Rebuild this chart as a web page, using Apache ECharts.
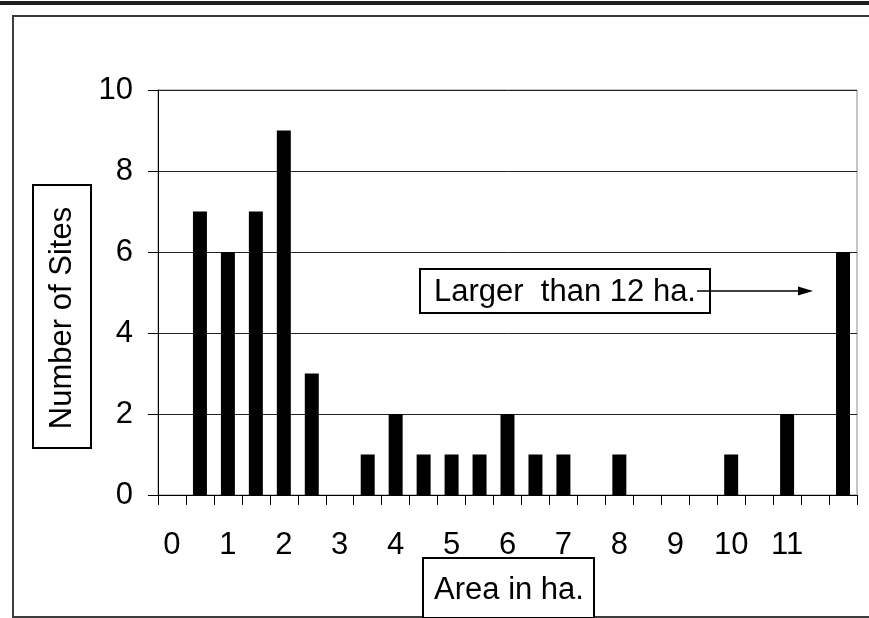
<!DOCTYPE html>
<html>
<head>
<meta charset="utf-8">
<script src="https://cdn.jsdelivr.net/npm/echarts@6/dist/echarts.min.js"></script>
<style>
  html, body { margin: 0; padding: 0; background: #fff; }
  #chart { width: 869px; height: 618px; }
</style>
</head>
<body>
<div id="chart"></div>
<script>
// Site size bins in half-hectare steps, last bin collects everything over 12 ha.
const areaBins = ['0', '0.5', '1', '1.5', '2', '2.5', '3', '3.5', '4', '4.5', '5', '5.5',
  '6', '6.5', '7', '7.5', '8', '8.5', '9', '9.5', '10', '10.5', '11', '11.5', '>12'];
// Number of sites falling in each bin
const siteCounts = [0, 7, 6, 7, 9, 3, 0, 1, 2, 1, 1, 1, 2, 1, 1, 0, 1, 0, 0, 0, 1, 0, 2, 0, 6];
// Labels printed under the axis (whole hectares only)
const binTickLabels = ['0', '', '1', '', '2', '', '3', '', '4', '', '5', '', '6', '', '7', '',
  '8', '', '9', '', '10', '', '11', '', ''];
const yTicks = { min: 0, max: 10, step: 2 };

const FONT = 'Liberation Sans, Arial, Helvetica, sans-serif';
const FS = 31;

const chart = echarts.init(document.getElementById('chart'), null, { renderer: 'canvas' });

chart.setOption({
  backgroundColor: '#ffffff',
  animation: false,
  grid: {
    left: 158, right: 12, top: 90, bottom: 123,
    show: true, borderColor: '#8a8a8a', borderWidth: 1
  },
  xAxis: {
    type: 'category',
    data: areaBins,
    boundaryGap: true,
    axisLine: { lineStyle: { color: '#000', width: 1 } },
    axisTick: { show: true, interval: 0, length: 10, lineStyle: { color: '#000', width: 1 } },
    axisLabel: {
      interval: 0, margin: 35, color: '#000', fontFamily: FONT, fontSize: FS,
      formatter: (v, i) => binTickLabels[i]
    },
    splitLine: { show: false }
  },
  yAxis: {
    type: 'value',
    min: yTicks.min, max: yTicks.max, interval: yTicks.step,
    axisLine: { show: true, lineStyle: { color: '#000', width: 1 } },
    axisTick: { show: true, length: 10, lineStyle: { color: '#000', width: 1 } },
    axisLabel: { margin: 25, color: '#000', fontFamily: FONT, fontSize: FS },
    splitLine: { show: true, lineStyle: { color: '#222', width: 1 } }
  },
  series: [{
    type: 'bar',
    data: siteCounts,
    barWidth: '50%',
    itemStyle: { color: '#000' }
  }],
  graphic: [
    // page frame
    { type: 'rect', shape: { x: 0, y: 1, width: 869, height: 4 }, style: { fill: '#1e1e1e' }, silent: true },
    { type: 'rect', shape: { x: 13, y: 16, width: 880, height: 601 },
      style: { fill: null, stroke: '#3c3c3c', lineWidth: 2 }, silent: true },
    // y axis title box
    { type: 'rect', shape: { x: 33, y: 185, width: 58, height: 263 },
      style: { fill: '#fff', stroke: '#000', lineWidth: 2 }, silent: true },
    { type: 'text', x: 62, y: 318, rotation: Math.PI / 2,
      style: { text: 'Number of Sites', font: FS + 'px ' + FONT, fill: '#000',
        align: 'center', verticalAlign: 'middle' }, silent: true },
    // x axis title box
    { type: 'rect', shape: { x: 423, y: 558, width: 171, height: 60 },
      style: { fill: '#fff', stroke: '#000', lineWidth: 2 }, silent: true },
    { type: 'text', x: 509, y: 590,
      style: { text: 'Area in ha.', font: FS + 'px ' + FONT, fill: '#000',
        align: 'center', verticalAlign: 'middle' }, silent: true },
    // note on the last bin
    { type: 'rect', shape: { x: 420, y: 269, width: 290, height: 44 },
      style: { fill: '#fff', stroke: '#000', lineWidth: 2 }, silent: true, z: 10 },
    { type: 'text', x: 565, y: 292,
      style: { text: 'Larger  than 12 ha.', font: FS + 'px ' + FONT, fill: '#000',
        align: 'center', verticalAlign: 'middle' }, silent: true, z: 11 },
    { type: 'line', shape: { x1: 697, y1: 291, x2: 800, y2: 291 },
      style: { stroke: '#000', lineWidth: 1.5 }, silent: true, z: 11 },
    { type: 'polygon', shape: { points: [[798, 286.5], [813, 291], [798, 295.5]] },
      style: { fill: '#000' }, silent: true, z: 11 }
  ]
});
</script>
</body>
</html>
